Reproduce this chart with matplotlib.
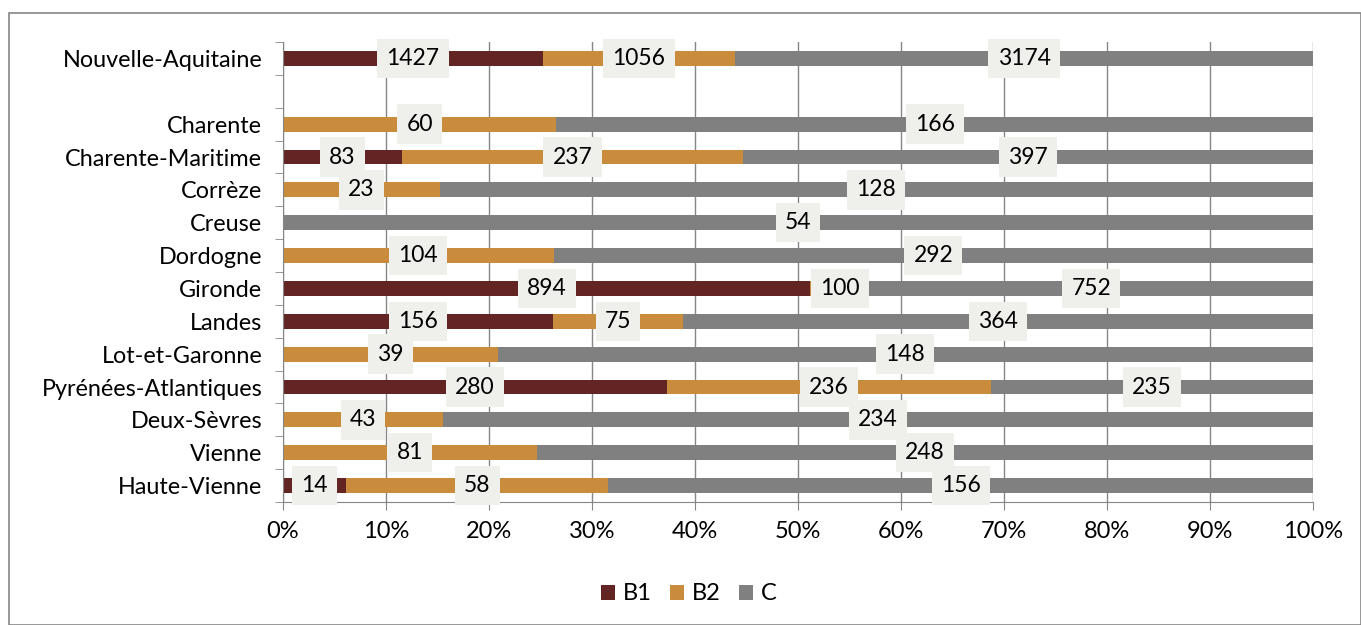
import matplotlib.pyplot as plt
import numpy as np
from matplotlib.patches import Rectangle

plt.rcParams['font.family'] = ['Lato', 'DejaVu Sans']

categories = ['Nouvelle-Aquitaine', '', 'Charente', 'Charente-Maritime', 'Corrèze', 'Creuse',
              'Dordogne', 'Gironde', 'Landes', 'Lot-et-Garonne', 'Pyrénées-Atlantiques',
              'Deux-Sèvres', 'Vienne', 'Haute-Vienne']
b1 = [1427, 0, 0, 83, 0, 0, 0, 894, 156, 0, 280, 0, 0, 14]
b2 = [1056, 0, 60, 237, 23, 0, 104, 100, 75, 39, 236, 43, 81, 58]
c = [3174, 0, 166, 397, 128, 54, 292, 752, 364, 148, 235, 234, 248, 156]

series = [('B1', b1, '#632523'), ('B2', b2, '#c98b3c'), ('C', c, '#808080')]

fig = plt.figure(figsize=(13.61, 6.25), dpi=100)
ax = fig.add_axes([283 / 1361, 1 - 502 / 625, 1030 / 1361, 460 / 625])

y = np.arange(len(categories))
tot = np.array(b1) + np.array(b2) + np.array(c)
tot_safe = np.where(tot == 0, 1, tot)
left = np.zeros(len(categories))
for name, vals, col in series:
    v = np.array(vals)
    w = v / tot_safe
    ax.barh(y, w, left=left, height=0.45, color=col, label=name, zorder=2)
    for i in range(len(v)):
        if v[i] > 0:
            ax.text(left[i] + w[i] / 2, y[i], str(v[i]), ha='center', va='center', fontsize=16.5,
                    zorder=4, bbox=dict(boxstyle='square,pad=0.4', fc='#efefec', ec='none'))
    left = left + w

ax.set_xlim(0, 1)
ax.set_ylim(len(categories) - 0.5, -0.5)
ax.set_xticks(np.arange(0, 1.01, 0.1))
ax.set_xticklabels([f'{int(round(t * 100))}%' for t in np.arange(0, 1.01, 0.1)])
ax.set_yticks(y)
ax.set_yticklabels(categories)
ax.set_yticks(np.arange(-0.5, len(categories), 1), minor=True)
ax.tick_params(axis='y', which='major', length=0, labelsize=16.8, pad=15)
ax.tick_params(axis='y', which='minor', length=6, color='#868686', direction='out')
ax.tick_params(axis='x', length=6, color='#868686', labelsize=17, pad=8)
ax.xaxis.grid(True, color='#868686', linewidth=1, zorder=0)
ax.set_axisbelow(True)
for s in ['top', 'right']:
    ax.spines[s].set_visible(False)
for s in ['left', 'bottom']:
    ax.spines[s].set_color('#868686')

ax.legend(loc='center', bbox_to_anchor=(0.394, -0.2), ncol=3, frameon=False, fontsize=17,
          handlelength=0.6, handleheight=0.6, handletextpad=0.3, columnspacing=0.8)

fig.patches.append(Rectangle((9 / 1361, 0), 1 - 9 / 1361, 1 - 13 / 625, transform=fig.transFigure,
                             fill=False, ec='#868686', lw=1.2))

fig.savefig('out.png', dpi=100)
